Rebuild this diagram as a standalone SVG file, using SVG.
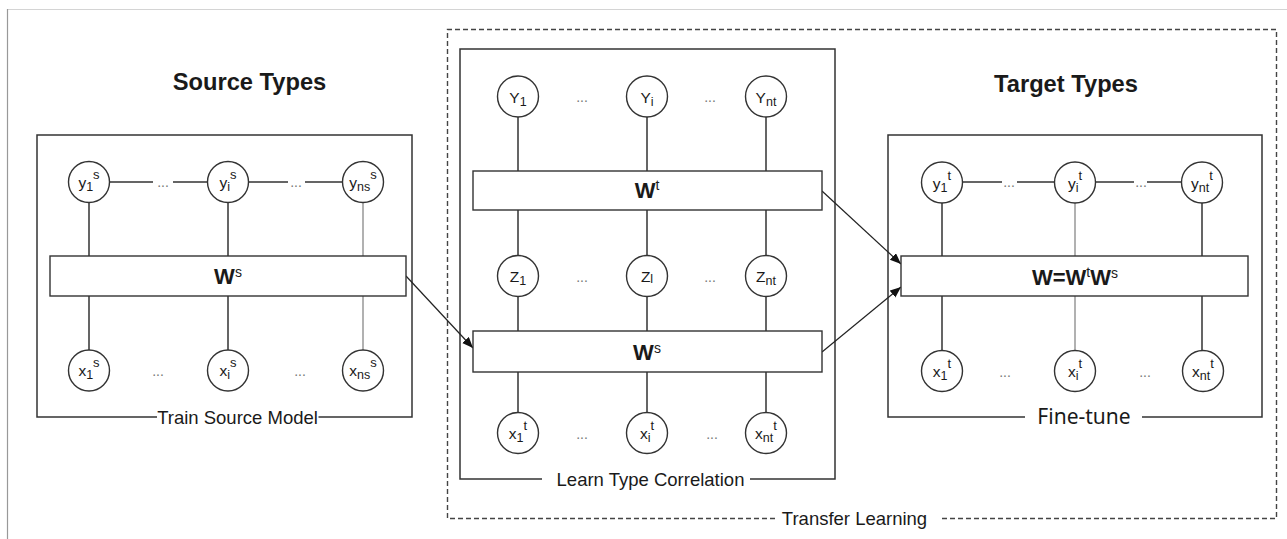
<svg xmlns="http://www.w3.org/2000/svg" width="1287" height="539" viewBox="0 0 1287 539">
<style>
text{font-family:"Liberation Sans",Arial,sans-serif;fill:#1a1a1a}
.ttl{font-size:23.7px;font-weight:bold;text-anchor:middle}
.cap{font-size:18.5px;text-anchor:middle}
.ft{font-family:"Noto Sans","Liberation Sans",sans-serif;font-size:21px;text-anchor:middle}
.lbl{font-size:15.5px;text-anchor:middle}
.sub{font-size:12.5px}
.sup{font-size:13px}
.dots{font-size:14px;fill:#777;text-anchor:middle}
.wb{font-size:22px;font-weight:bold;text-anchor:middle}
.ws{font-size:14px;font-weight:normal}
.node{fill:#fff;stroke:#333;stroke-width:1.4}
.box{fill:#fff;stroke:#333;stroke-width:1.4}
.frame{fill:none;stroke:#333;stroke-width:1.5}
.dash{fill:none;stroke:#444;stroke-width:1.4;stroke-dasharray:5 3}
.ln{stroke:#333;stroke-width:1.5;fill:none}
.lg{stroke:#888;stroke-width:1.3;fill:none}
.arr{stroke:#222;stroke-width:1.2;fill:none;marker-end:url(#ah)}
</style>
<defs>
<marker id="ah" markerUnits="userSpaceOnUse" markerWidth="12" markerHeight="10" refX="11" refY="4.5" orient="auto">
<path d="M0,0 L11,4.5 L0,9 z" fill="#111"/>
</marker>
</defs>
<rect width="1287" height="539" fill="#fff"/>
<!-- outer page frame -->
<line x1="7" y1="9.5" x2="1287" y2="9.5" stroke="#d4d4d4" stroke-width="1.2"/>
<line x1="7.5" y1="9" x2="7.5" y2="539" stroke="#999" stroke-width="1.2"/>

<!-- containers -->
<g id="transfer-learning">
<path class="dash" d="M775,518.5 H447.5 V29.5 H1276.5 V518.5 H941"/>
<text class="cap" x="854.5" y="524.6">Transfer Learning</text>
</g>
<g id="train-source-model">
<path class="frame" d="M157,417 H37 V135 H412 V417 H318.5"/>
<text class="cap" x="237.5" y="423.6">Train Source Model</text>
<text class="ttl" x="249.5" y="90">Source Types</text>
</g>
<g id="learn-type-correlation">
<path class="frame" d="M542,479 H460 V49 H835 V479 H750"/>
<text class="cap" x="650.5" y="485.6">Learn Type Correlation</text>
</g>
<g id="fine-tune">
<path class="frame" d="M1025,417 H888 V135 H1262 V417 H1142"/>
<text class="ft" x="1084" y="424">Fine-tune</text>
<text class="ttl" x="1066" y="92">Target Types</text>
</g>

<!-- connectors -->
<g id="connectors">
<!-- left panel -->
<path class="ln" d="M110,182 H153 M173,182 H207 M248,182 H288 M305,182 H342"/>
<path class="ln" d="M89,203 V256 M228,203 V256 M89,296 V350 M228,296 V350"/>
<path class="lg" d="M363,203 V256 M363,296 V350"/>
<!-- middle panel -->
<path class="ln" d="M518,117 V171 M647,117 V171 M766,117 V171 M518,210 V256 M647,210 V256 M766,210 V256 M518,296 V331 M647,296 V331 M766,296 V331 M518,372 V413 M647,372 V413 M766,372 V413"/>
<!-- right panel -->
<path class="ln" d="M962,182 H1002 M1017,182 H1055 M1095,182 H1134 M1147,182 H1182"/>
<path class="ln" d="M942,203 V256 M1202,203 V256 M942,296 V351 M1202,296 V351"/>
<path class="lg" d="M1075,203 V256 M1075,296 V351"/>
<!-- arrows -->
<line class="arr" x1="406" y1="276" x2="473" y2="348"/>
<line class="arr" x1="822" y1="191" x2="901" y2="264"/>
<line class="arr" x1="822" y1="352" x2="901" y2="287"/>
</g>

<!-- left panel nodes -->
<g id="W-s-source"><rect class="box" x="50" y="256" width="356" height="40"/><text class="wb" x="228" y="284">W<tspan class="ws" dy="-7">s</tspan></text></g>
<g id="y1s"><circle class="node" cx="89" cy="182" r="20.5"/><text class="lbl" x="89" y="188">y<tspan class="sub" dy="3">1</tspan><tspan class="sup" dy="-12">s</tspan></text></g>
<g id="yis"><circle class="node" cx="228" cy="182" r="20.5"/><text class="lbl" x="228" y="188">y<tspan class="sub" dy="3">i</tspan><tspan class="sup" dy="-12">s</tspan></text></g>
<g id="ynss"><circle class="node" cx="363" cy="182" r="20.5"/><text class="lbl" x="363" y="188">y<tspan class="sub" dy="3">ns</tspan><tspan class="sup" dy="-12">s</tspan></text></g>
<g id="x1s"><circle class="node" cx="89" cy="370.5" r="20.5"/><text class="lbl" x="89" y="376">x<tspan class="sub" dy="3">1</tspan><tspan class="sup" dy="-12">s</tspan></text></g>
<g id="xis"><circle class="node" cx="228" cy="370.5" r="20.5"/><text class="lbl" x="228" y="376">x<tspan class="sub" dy="3">i</tspan><tspan class="sup" dy="-12">s</tspan></text></g>
<g id="xnss"><circle class="node" cx="363" cy="370.5" r="20.5"/><text class="lbl" x="363" y="376">x<tspan class="sub" dy="3">ns</tspan><tspan class="sup" dy="-12">s</tspan></text></g>
<g id="dots-left">
<text class="dots" x="163" y="187">...</text><text class="dots" x="296" y="187">...</text>
<text class="dots" x="158" y="376">...</text><text class="dots" x="300" y="376">...</text>
</g>

<!-- middle panel nodes -->
<g id="W-t"><rect class="box" x="473" y="171" width="349" height="39"/><text class="wb" x="647" y="198">W<tspan class="ws" dy="-8">t</tspan></text></g>
<g id="W-s-mid"><rect class="box" x="473" y="331" width="349" height="41"/><text class="wb" x="647" y="359.5">W<tspan class="ws" dy="-7">s</tspan></text></g>
<g id="Y1"><circle class="node" cx="518" cy="96.5" r="20.5"/><text class="lbl" x="518" y="102.5">Y<tspan class="sub" dy="3">1</tspan></text></g>
<g id="Yi"><circle class="node" cx="647" cy="96.5" r="20.5"/><text class="lbl" x="647" y="102.5">Y<tspan class="sub" dy="3">i</tspan></text></g>
<g id="Ynt"><circle class="node" cx="766" cy="96.5" r="20.5"/><text class="lbl" x="766" y="102.5">Y<tspan class="sub" dy="3">nt</tspan></text></g>
<g id="Z1"><circle class="node" cx="518" cy="276" r="20.5"/><text class="lbl" x="518" y="282">Z<tspan class="sub" dy="3">1</tspan></text></g>
<g id="Zi"><circle class="node" cx="647" cy="276" r="20.5"/><text class="lbl" x="647" y="282">Z<tspan class="sub" dy="1">l</tspan></text></g>
<g id="Znt"><circle class="node" cx="766" cy="276" r="20.5"/><text class="lbl" x="766" y="282">Z<tspan class="sub" dy="3">nt</tspan></text></g>
<g id="x1t-mid"><circle class="node" cx="518" cy="433" r="20.5"/><text class="lbl" x="518" y="439">x<tspan class="sub" dy="3">1</tspan><tspan class="sup" dy="-12">t</tspan></text></g>
<g id="xit-mid"><circle class="node" cx="647" cy="433" r="20.5"/><text class="lbl" x="647" y="439">x<tspan class="sub" dy="3">i</tspan><tspan class="sup" dy="-12">t</tspan></text></g>
<g id="xntt-mid"><circle class="node" cx="766" cy="433" r="20.5"/><text class="lbl" x="766" y="439">x<tspan class="sub" dy="3">nt</tspan><tspan class="sup" dy="-12">t</tspan></text></g>
<g id="dots-mid">
<text class="dots" x="582" y="102">...</text><text class="dots" x="710" y="102">...</text>
<text class="dots" x="582" y="282">...</text><text class="dots" x="710" y="282">...</text>
<text class="dots" x="582" y="439">...</text><text class="dots" x="712" y="439">...</text>
</g>

<!-- right panel nodes -->
<g id="W-target"><rect class="box" x="901" y="256" width="347" height="40"/><text class="wb" x="1075" y="284.5">W=W<tspan class="ws" dy="-8">t</tspan><tspan dy="8">W</tspan><tspan class="ws" dy="-7">s</tspan></text></g>
<g id="y1t"><circle class="node" cx="942" cy="182.5" r="20.5"/><text class="lbl" x="942" y="188.5">y<tspan class="sub" dy="3">1</tspan><tspan class="sup" dy="-12">t</tspan></text></g>
<g id="yit"><circle class="node" cx="1075" cy="182.5" r="20.5"/><text class="lbl" x="1075" y="188.5">y<tspan class="sub" dy="3">i</tspan><tspan class="sup" dy="-12">t</tspan></text></g>
<g id="yntt"><circle class="node" cx="1202" cy="182.5" r="20.5"/><text class="lbl" x="1202" y="188.5">y<tspan class="sub" dy="3">nt</tspan><tspan class="sup" dy="-12">t</tspan></text></g>
<g id="x1t"><circle class="node" cx="942" cy="371" r="20.5"/><text class="lbl" x="942" y="377">x<tspan class="sub" dy="3">1</tspan><tspan class="sup" dy="-12">t</tspan></text></g>
<g id="xit"><circle class="node" cx="1075" cy="371" r="20.5"/><text class="lbl" x="1075" y="377">x<tspan class="sub" dy="3">i</tspan><tspan class="sup" dy="-12">t</tspan></text></g>
<g id="xntt"><circle class="node" cx="1203" cy="371" r="20.5"/><text class="lbl" x="1203" y="377">x<tspan class="sub" dy="3">nt</tspan><tspan class="sup" dy="-12">t</tspan></text></g>
<g id="dots-right">
<text class="dots" x="1009" y="187">...</text><text class="dots" x="1141" y="187">...</text>
<text class="dots" x="1005" y="377">...</text><text class="dots" x="1145" y="377">...</text>
</g>
</svg>
